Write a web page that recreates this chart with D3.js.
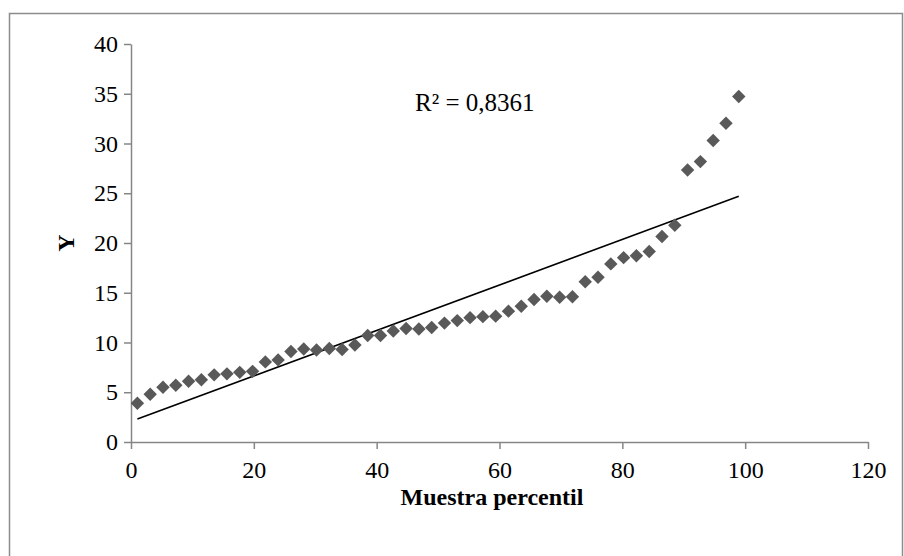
<!DOCTYPE html>
<html>
<head>
<meta charset="utf-8">
<script src="https://cdnjs.cloudflare.com/ajax/libs/d3/7.8.5/d3.min.js"></script>
<style>
  body { margin: 0; background: #fff; }
  svg { display: block; font-family: "Liberation Serif", "Times New Roman", serif; }
</style>
</head>
<body>
<div id="chart"></div>
<script>
const width = 904;
const height = 556;

// Y values, one per percentile sample (48 samples)
const yValues = [
  3.9, 4.8, 5.5, 5.7, 6.1, 6.25, 6.75, 6.85, 7.0, 7.1,
  8.05, 8.25, 9.1, 9.35, 9.25, 9.4, 9.3, 9.75, 10.7, 10.7,
  11.15, 11.4, 11.35, 11.5, 11.95, 12.2, 12.5, 12.6, 12.65, 13.15,
  13.65, 14.33, 14.65, 14.55, 14.6, 16.1, 16.55, 17.9, 18.53, 18.72,
  19.15, 20.65, 21.78, 27.33, 28.18, 30.3, 32.03, 34.73
];
// percentile position of each sample: (i - 0.5) / n * 100
const xValues = yValues.map((d, i) => (i + 0.5) / yValues.length * 100);
const xTicks = [0, 20, 40, 60, 80, 100, 120];
const yTicks = [0, 5, 10, 15, 20, 25, 30, 35, 40];
const r2Label = "R² = 0,8361";

const margin = {left: 131, right: 36, top: 44, bottom: 114};

const svg = d3.select('#chart')
  .append('svg')
  .attr('width', width)
  .attr('height', height);

// outer chart frame
svg.append('rect')
  .attr('x', 9.5).attr('y', 13.5)
  .attr('width', 893).attr('height', 560)
  .attr('fill', 'none')
  .attr('stroke', '#8c8c8c')
  .attr('stroke-width', 1.5);

const x = d3.scaleLinear().domain([0, 120]).range([margin.left, width - margin.right]);
const y = d3.scaleLinear().domain([0, 40]).range([height - margin.bottom, margin.top]);

const xAxis = svg.append('g')
  .attr('transform', 'translate(0,' + y(0) + ')')
  .call(d3.axisBottom(x).tickValues(xTicks).tickSize(7).tickPadding(12).tickSizeOuter(0));

const yAxis = svg.append('g')
  .attr('transform', 'translate(' + x(0) + ',0)')
  .call(d3.axisLeft(y).tickValues(yTicks).tickSize(7).tickPadding(6).tickSizeOuter(0));

[xAxis, yAxis].forEach(function(a) {
  a.select('.domain').attr('stroke', '#868686').attr('stroke-width', 1.5);
  a.selectAll('.tick line').attr('stroke', '#868686').attr('stroke-width', 1.5);
  a.selectAll('.tick text')
    .attr('fill', '#000')
    .attr('font-family', '"Liberation Serif", serif')
    .attr('font-size', '24px');
});

// linear trend line (least squares)
const n = xValues.length;
const mx = d3.mean(xValues), my = d3.mean(yValues);
let sxy = 0, sxx = 0;
for (let i = 0; i < n; i++) {
  sxy += (xValues[i] - mx) * (yValues[i] - my);
  sxx += (xValues[i] - mx) * (xValues[i] - mx);
}
const slope = sxy / sxx;
const intercept = my - slope * mx;
const xEnds = [xValues[0], xValues[n - 1]];

svg.append('path')
  .datum(xEnds)
  .attr('d', d3.line().x(d => x(d)).y(d => y(intercept + slope * d)))
  .attr('stroke', '#000')
  .attr('stroke-width', 1.6)
  .attr('fill', 'none');

// diamond markers
const points = xValues.map((d, i) => ({x: d, y: yValues[i]}));
svg.append('g')
  .selectAll('path')
  .data(points)
  .enter()
  .append('path')
  .attr('d', d3.symbol().type(d3.symbolSquare).size(90))
  .attr('transform', d => 'translate(' + x(d.x) + ',' + y(d.y) + ') rotate(45)')
  .attr('fill', '#595959');

svg.append('text')
  .text(r2Label)
  .attr('x', 415)
  .attr('y', 111)
  .attr('font-size', '25px')
  .attr('fill', '#000');

svg.append('text')
  .text('Muestra percentil')
  .attr('x', 492)
  .attr('y', 505)
  .attr('text-anchor', 'middle')
  .attr('font-size', '24px')
  .attr('font-weight', 'bold');

svg.append('text')
  .text('Y')
  .attr('transform', 'translate(74,' + y(20) + ') rotate(-90)')
  .attr('text-anchor', 'middle')
  .attr('font-size', '24px')
  .attr('font-weight', 'bold');
</script>
</body>
</html>
